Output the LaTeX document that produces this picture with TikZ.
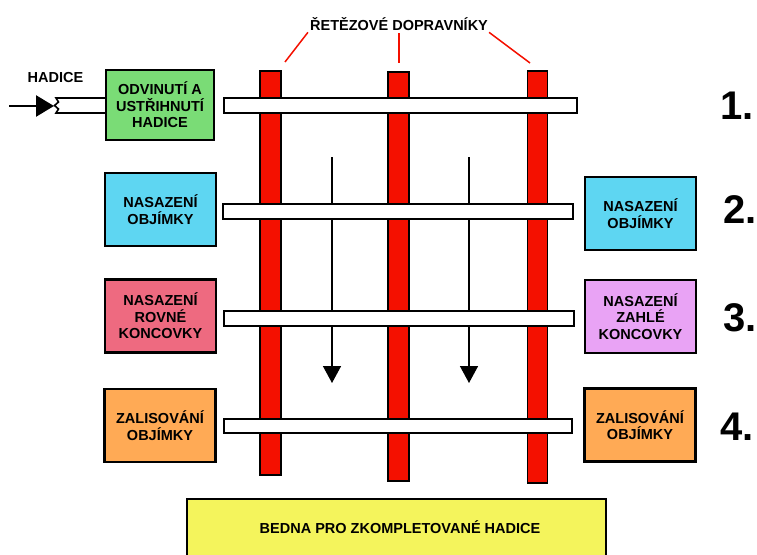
\documentclass[tikz,border=0pt]{standalone}
\usepackage{fontspec}
\setmainfont{Liberation Sans}
\usetikzlibrary{arrows.meta,calc}
\definecolor{cgreen}{RGB}{122,220,118}
\definecolor{ccyan}{RGB}{94,214,242}
\definecolor{cpink}{RGB}{238,106,128}
\definecolor{cpurple}{RGB}{233,163,245}
\definecolor{corange}{RGB}{255,170,85}
\definecolor{cyellow}{RGB}{244,244,92}
\definecolor{cred}{RGB}{244,16,0}
\tikzset{
  every node/.style={font=\bfseries\fontsize{14.5}{16.5}\selectfont},
  box/.style={draw=black, line width=2.2pt, rectangle, inner sep=0pt,
    minimum width=111pt, minimum height=73pt, align=center},
  chain/.style={draw=black, fill=cred, line width=1.6pt, rectangle, inner sep=0pt, minimum width=21pt},
  hose/.style={draw=black, fill=white, line width=1.6pt, rectangle, inner sep=0pt, minimum height=15pt},
  flow/.style={line width=1.5pt, -{Triangle[width=18pt,length=17pt]}},
  leader/.style={draw=cred, line width=1.5pt},
  num/.style={font=\bfseries\fontsize{40}{40}\selectfont, anchor=west, inner sep=0pt},
  lbl/.style={anchor=base, inner sep=1pt}
}
\begin{document}
\begin{tikzpicture}[x=1pt,y=-1pt]
\useasboundingbox (0,0) rectangle (757,554);
% chain conveyors
\node[chain, minimum height=404pt] (r1) at (270.5,273) {};
\node[chain, minimum height=409pt] (r2) at (398.5,276.5) {};
\node[chain, minimum height=412pt, minimum width=20pt] (r3) at (537.5,277) {};
% flow arrows
\coordinate (a1s) at (332,157);
\coordinate (a1e) at (332,383);
\coordinate (a2s) at (469,157);
\coordinate (a2e) at (469,383);
\draw[flow] (a1s) -- (a1e);
\draw[flow] (a2s) -- (a2e);
% hoses on conveyors
\node[hose, minimum width=353pt] (w1) at (400.5,105.5) {};
\node[hose, minimum width=350pt] (w2) at (398,211.5) {};
\node[hose, minimum width=350pt] (w3) at (399,318.5) {};
\node[hose, minimum width=348pt, minimum height=14pt] (w4) at (398,426) {};
% boxes
\node[box, fill=cgreen, minimum width=108pt, minimum height=70pt] (g) at (160,105) {ODVINUTÍ A\\USTŘIHNUTÍ\\HADICE};
\node[box, fill=ccyan] (c1) at (160.5,209.5) {NASAZENÍ\\OBJÍMKY};
\node[box, fill=cpink] (p1) at (160.5,316) {NASAZENÍ\\ROVNÉ\\KONCOVKY};
\node[box, fill=corange] (o1) at (160,425.5) {ZALISOVÁNÍ\\OBJÍMKY};
\node[box, fill=ccyan] (c2) at (640.5,213.5) {NASAZENÍ\\OBJÍMKY};
\node[box, fill=cpurple] (p2) at (640.5,316.5) {NASAZENÍ\\ZAHLÉ\\KONCOVKY};
\node[box, fill=corange] (o2) at (640,425) {ZALISOVÁNÍ\\OBJÍMKY};
\node[box, fill=cyellow, minimum width=419pt, minimum height=70pt] (bedna) at (396.5,534) {};
\node[lbl] (bednatxt) at (400,533) {BEDNA PRO ZKOMPLETOVANÉ HADICE};
% incoming hose
\coordinate (hoseL) at (54,106);
\draw[line width=1.6pt, fill=white] (g.west |- 0,98) -- (56,98) -- (58.5,102) -- (54.5,105.5) -- (58.5,109) -- (56,113) -- (g.west |- 0,113);
\coordinate (in0) at (9,106);
\draw[line width=2.5pt, -{Triangle[width=21pt,length=18pt]}] (in0) -- (hoseL);
\node[lbl] (hadice) at (55.5,82) {HADICE};
% label of conveyors
\node[lbl] (ret) at (399,30) {ŘETĚZOVÉ DOPRAVNÍKY};
\coordinate (t1) at (285,62);
\coordinate (t2) at (399,63);
\coordinate (t3) at (530,63);
\draw[leader] ($(ret.south west)+(-1,1)$) -- (t1);
\draw[leader] ($(ret.south)+(0,2)$) -- (t2);
\draw[leader] ($(ret.south east)+(0,1)$) -- (t3);
% step numbers
\node[num] (n1) at (720,105.5) {1.};
\node[num] (n2) at (723,210) {2.};
\node[num] (n3) at (723,318) {3.};
\node[num] (n4) at (720,427) {4.};
\end{tikzpicture}
\end{document}
